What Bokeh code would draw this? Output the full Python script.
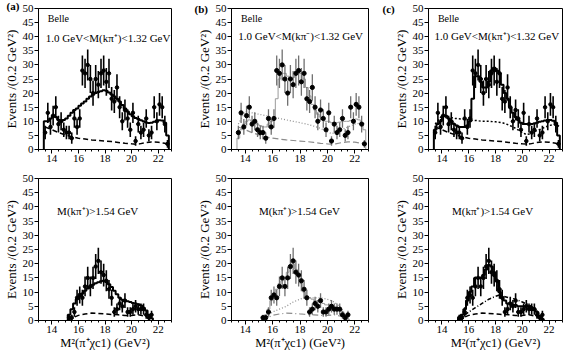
from bokeh.plotting import figure
from bokeh.layouts import gridplot
from bokeh.models import Range1d, FixedTicker, Label
from bokeh.embed import file_html
from bokeh.resources import INLINE

FONT = "Liberation Serif"

# ---------------- data ----------------
BIN_W = 0.2
TOP_START = 13.4          # first bin edge, top row
BOT_START = 15.2          # first bin edge, bottom row

top_counts = [6, 13, 8, 12, 15, 9, 10, 7, 6, 6, 4, 11, 8, 11, 28, 27, 30, 25, 20, 25,
              23, 27, 28, 24, 27, 18, 17, 22, 15, 10, 14, 11, 7, 13, 3, 9, 6, 7, 11, 5,
              6, 15, 10, 16, 15, 9, 2]
top_err = [2.4, 3.6, 2.8, 3.5, 3.9, 3.0, 3.2, 2.6, 2.4, 2.4, 2.0, 3.3, 2.8, 3.3, 5.3, 5.2,
           5.5, 5.0, 4.5, 5.0, 4.8, 5.2, 5.3, 4.9, 5.2, 4.2, 4.1, 4.7, 3.9, 3.2, 3.7, 3.3,
           2.6, 3.6, 1.7, 3.0, 2.4, 2.6, 3.3, 2.2, 2.4, 3.9, 3.2, 4.0, 3.9, 3.0, 1.4]

fit_a = [10, 10, 11, 12, 11.5, 10.5, 10, 10.5, 11, 12, 13, 14, 14.5, 15.5, 16.3, 17, 18,
         18.8, 19.4, 20, 20.4, 20.7, 21, 20.8, 20.2, 19.5, 18.8, 18, 17, 15.8, 14.5, 13.5,
         12.5, 11.8, 11.2, 10.8, 10.4, 10, 9.6, 9.4, 9.5, 9.8, 10.2, 10.4, 10.3, 9.5, 5]
fit_b = [4, 7, 9, 10, 10.5, 10, 9.5, 9, 8.5, 8, 8, 9, 10, 11, 18, 25, 27, 27, 26, 25, 25.5,
         26.5, 27, 27, 25, 22, 19, 16, 14, 12.5, 11.5, 10.5, 10, 10, 9.5, 9.5, 9.5, 9.7, 10,
         10, 10, 10.3, 10.5, 10.8, 10.5, 9.5, 7]
fit_c = [7, 9, 10, 12, 12, 11, 10, 9, 8.5, 8, 8, 8, 8.5, 10, 18, 26, 26, 24, 22, 22, 24, 28,
         29, 28, 27, 23, 20, 18, 15, 13, 11.5, 10.5, 9.5, 9, 9, 9, 9, 9.2, 9.5, 9.8, 10,
         10.3, 10.5, 10.5, 10.2, 9.5, 5]

top_curve_x = [13.5, 14.0, 14.5, 15.0, 15.5, 16.0, 16.5, 17.0, 17.5, 18.0, 18.5, 19.0,
               19.5, 20.0, 20.3, 20.6, 21.0, 21.5, 22.0, 22.5, 22.8]
top_dotted_b = [9, 13.5, 13, 12.5, 12, 11.5, 11, 10.5, 10, 9.5, 9, 8.3, 7.5, 6.3, 5.6, 6,
                7, 8, 9, 9.5, 9]
top_dotted_c = [9, 12, 11.5, 11, 10.8, 10.5, 10.3, 10, 10, 9.8, 9.5, 8.7, 7.5, 6, 5.3, 5.5,
                6.5, 7.5, 8.5, 9, 8]
top_bkg = [8, 7, 6, 5.2, 4.5, 4, 3.7, 3.4, 3.2, 3, 2.8, 2.5, 2.2, 2, 1.9, 2, 2.4, 2.7, 2.6,
           2.2, 1.5]

bot_counts = [1, 1, 3, 8, 9, 8, 12, 15, 12, 15, 19, 21, 17, 16, 14, 11, 8, 3, 4, 6, 5, 7,
              3, 3, 4, 5, 4, 4, 4, 2, 1, 2]
bot_err = [1, 1, 1.7, 2.8, 3, 2.8, 3.5, 3.9, 3.5, 3.9, 4.4, 4.6, 4.1, 4, 3.7, 3.3, 2.8, 1.7,
           2, 2.4, 2.2, 2.6, 1.7, 1.7, 2, 2.2, 2, 2, 2, 1.4, 1, 1.4]
fit_d = [2, 4, 6, 7.5, 8.5, 9.5, 10.5, 11.3, 12, 12.6, 13.1, 13.5, 13.8, 14, 13.6, 12.8,
         11.8, 10.5, 9.2, 8, 7.3, 7, 6.8, 6.5, 6.2, 6, 5.7, 5.3, 4.5, 3.5, 2, 0.8]
fit_e = [1, 2, 4, 7, 9, 11, 13, 14, 15, 17, 19, 20, 18, 16, 13, 10, 8.5, 8, 7.5, 7, 7, 6.5,
         6, 5.5, 5.5, 5, 5, 4.5, 4, 3, 1.5, 0.5]
fit_f = [1, 2, 4, 7, 10, 12, 15, 15, 15, 16, 18, 19.5, 19, 17, 14, 10, 8, 7, 6, 6, 5.5, 5.5,
         5, 5, 5, 5, 5, 4.5, 4, 3, 1.5, 0.5]

bot_curve_x = [15.2, 15.6, 16.0, 16.5, 17.0, 17.5, 18.0, 18.3, 18.6, 19.0, 19.5, 20.0, 20.5,
               21.0, 21.3, 21.6]
bot_dotted_e = [0, 1.5, 3, 4, 5, 6.5, 7.5, 8, 8, 8, 8, 7.5, 6.5, 4.5, 2, 0]
bot_dotted_f = [0, 1.5, 3, 4.5, 6, 7.5, 8.5, 9, 8.5, 8, 7.5, 6.5, 5.5, 4, 2, 0]
bot_bkg = [0, 1, 1.8, 2.3, 2.6, 2.5, 2.3, 2.2, 2.1, 2, 1.8, 1.8, 2, 1.5, 0.8, 0]

x_major = [14, 16, 18, 20, 22]
y_major = [0, 5, 10, 15, 20, 25, 30, 35, 40, 45, 50]
panel_tags = ["(a)", "(b)", "(c)"]

top_centers = [TOP_START + BIN_W * (i + 0.5) for i in range(len(top_counts))]
bot_centers = [BOT_START + BIN_W * (i + 0.5) for i in range(len(bot_counts))]


def step_path(centers, vals):
    xs, ys = [centers[0] - BIN_W / 2], [0]
    for c, v in zip(centers, vals):
        xs += [c - BIN_W / 2, c + BIN_W / 2]
        ys += [v, v]
    xs.append(centers[-1] + BIN_W / 2)
    ys.append(0)
    return xs, ys


def make_panel(width, height, bl, br, bt, bb, bottom_row):
    p = figure(width=width, height=height, x_range=Range1d(13, 23), y_range=Range1d(0, 50),
               output_backend="svg", toolbar_location=None,
               min_border_left=bl, min_border_right=br, min_border_top=bt, min_border_bottom=bb)
    p.grid.visible = False
    p.outline_line_color = "black"
    p.outline_line_width = 1
    p.background_fill_color = "white"
    p.border_fill_color = "white"
    minor = [13 + 0.5 * i for i in range(21)]
    p.xaxis.ticker = FixedTicker(ticks=x_major, minor_ticks=minor)
    p.yaxis.ticker = FixedTicker(ticks=y_major, minor_ticks=[])
    for ax in (p.xaxis[0], p.yaxis[0]):
        ax.axis_line_color = "black"
        ax.major_tick_line_color = "black"
        ax.minor_tick_line_color = "black"
        ax.major_tick_in = 0
        ax.major_tick_out = 4
        ax.minor_tick_in = 0
        ax.minor_tick_out = 2
        ax.major_label_standoff = 1
        ax.major_label_text_font = FONT
        ax.major_label_text_font_size = "11px"
        ax.major_label_text_color = "black"
        ax.axis_label_text_font = FONT
        ax.axis_label_text_font_size = "12.5px"
        ax.axis_label_text_font_style = "normal"
        ax.axis_label_text_color = "black"
        ax.axis_label_standoff = 1
    p.yaxis.axis_label = "Events /(0.2 GeV²)"
    p.yaxis.axis_label_text_font_size = "13px"
    if bottom_row:
        p.xaxis.axis_label = "M²(π⁺χc1) (GeV²)"
        p.xaxis.axis_label_standoff = 0
    return p


def set_tag(p, text, offset, standoff):
    p.title.text = text
    p.title.align = "left"
    p.title.offset = offset
    p.title.standoff = standoff
    p.title.text_font = FONT
    p.title.text_font_size = "11px"
    p.title.text_font_style = "bold"
    p.title.text_color = "black"


def add_label(p, x, y, text, size="11px"):
    p.add_layout(Label(x=x, y=y, text=text, text_font=FONT, text_font_size=size,
                       text_baseline="middle", text_align="left", text_color="black"))


def draw_points(p, centers, counts, errs, dot_size, bar_color, bar_w, hbar):
    lo = [c - e for c, e in zip(counts, errs)]
    hi = [c + e for c, e in zip(counts, errs)]
    p.segment(x0=centers, y0=lo, x1=centers, y1=hi, line_color=bar_color, line_width=bar_w)
    if hbar:
        x0 = [c - BIN_W / 2 for c in centers]
        x1 = [c + BIN_W / 2 for c in centers]
        p.segment(x0=x0, y0=counts, x1=x1, y1=counts, line_color="black", line_width=1)
    p.scatter(centers, counts, size=dot_size, marker="circle", fill_color="black",
              line_color="black")


TOP_H, BOT_H = 170, 182
cols = [(192, 34, 21), (188, 39, 12), (184, 48, 2)]

# ---------- top row ----------
pa = make_panel(cols[0][0], TOP_H, cols[0][1], cols[0][2], 8, 21, False)
pb = make_panel(cols[1][0], TOP_H, cols[1][1], cols[1][2], 8, 21, False)
pc = make_panel(cols[2][0], TOP_H, cols[2][1], cols[2][2], 8, 21, False)

# (a)
pa.line(top_curve_x, top_bkg, line_color="black", line_width=1.5, line_dash="5 3")
draw_points(pa, top_centers, top_counts, top_err, 3.5, "black", 1.6, True)
xs, ys = step_path(top_centers, fit_a)
pa.line(xs, ys, line_color="black", line_width=2)

# (b)
pb.line(top_curve_x, top_bkg, line_color="#8c8c8c", line_width=1.2, line_dash="6 3")
pb.line(top_curve_x, top_dotted_b, line_color="#8c8c8c", line_width=1.2, line_dash="1 2")
xs, ys = step_path(top_centers, fit_b)
pb.line(xs, ys, line_color="#9a9a9a", line_width=1)
draw_points(pb, top_centers, top_counts, top_err, 4.2, "#707070", 1.3, False)

# (c)
pc.line(top_curve_x, top_bkg, line_color="black", line_width=1.5, line_dash="5 3")
pc.line(top_curve_x, top_dotted_c, line_color="black", line_width=1.5, line_dash="2 2")
draw_points(pc, top_centers, top_counts, top_err, 3.5, "black", 1.6, True)
xs, ys = step_path(top_centers, fit_c)
pc.line(xs, ys, line_color="black", line_width=2)

for p in (pa, pb, pc):
    add_label(p, 13.7, 46.5, "Belle", "10px")
add_label(pa, 13.55, 39.5, "1.0 GeV<M(kπ⁺)<1.32 GeV")
add_label(pb, 13.5, 40.3, "1.0 GeV<M(kπ⁻)<1.32 GeV")
add_label(pc, 13.45, 40.3, "1.0 GeV<M(kπ⁺)<1.32 GeV")
set_tag(pa, panel_tags[0], -32, -7)
set_tag(pb, panel_tags[1], -37, -12)
set_tag(pc, panel_tags[2], -46, -12)

# ---------- bottom row ----------
pd = make_panel(cols[0][0], BOT_H, cols[0][1], cols[0][2], 8, 32, True)
pe = make_panel(cols[1][0], BOT_H, cols[1][1], cols[1][2], 8, 32, True)
pf = make_panel(cols[2][0], BOT_H, cols[2][1], cols[2][2], 8, 32, True)

# (d)
pd.line(bot_curve_x, bot_bkg, line_color="black", line_width=1.5, line_dash="5 3")
draw_points(pd, bot_centers, bot_counts, bot_err, 3.5, "black", 1.6, True)
xs, ys = step_path(bot_centers, fit_d)
pd.line(xs, ys, line_color="black", line_width=2)

# (e)
pe.line(bot_curve_x, bot_bkg, line_color="#8c8c8c", line_width=1.2, line_dash="6 3 1 3")
pe.line(bot_curve_x, bot_dotted_e, line_color="#8c8c8c", line_width=1.2, line_dash="1 2")
xs, ys = step_path(bot_centers, fit_e)
pe.line(xs, ys, line_color="#9a9a9a", line_width=1)
draw_points(pe, bot_centers, bot_counts, bot_err, 4.2, "#707070", 1.3, False)

# (f)
pf.line(bot_curve_x, bot_bkg, line_color="black", line_width=1.5, line_dash="5 3")
pf.line(bot_curve_x, bot_dotted_f, line_color="black", line_width=1.5, line_dash="4 2 1 2")
draw_points(pf, bot_centers, bot_counts, bot_err, 3.5, "black", 1.6, True)
xs, ys = step_path(bot_centers, fit_f)
pf.line(xs, ys, line_color="black", line_width=2)

add_label(pd, 14.4, 38.7, "M(kπ⁺)>1.54 GeV")
add_label(pe, 15.0, 38.7, "M(kπ⁺)>1.54 GeV")
add_label(pf, 14.75, 38.7, "M(kπ⁺)>1.54 GeV")

grid = gridplot([[pa, pb, pc], [pd, pe, pf]], toolbar_location=None)

open("out.html", "w").write(file_html(grid, INLINE))
